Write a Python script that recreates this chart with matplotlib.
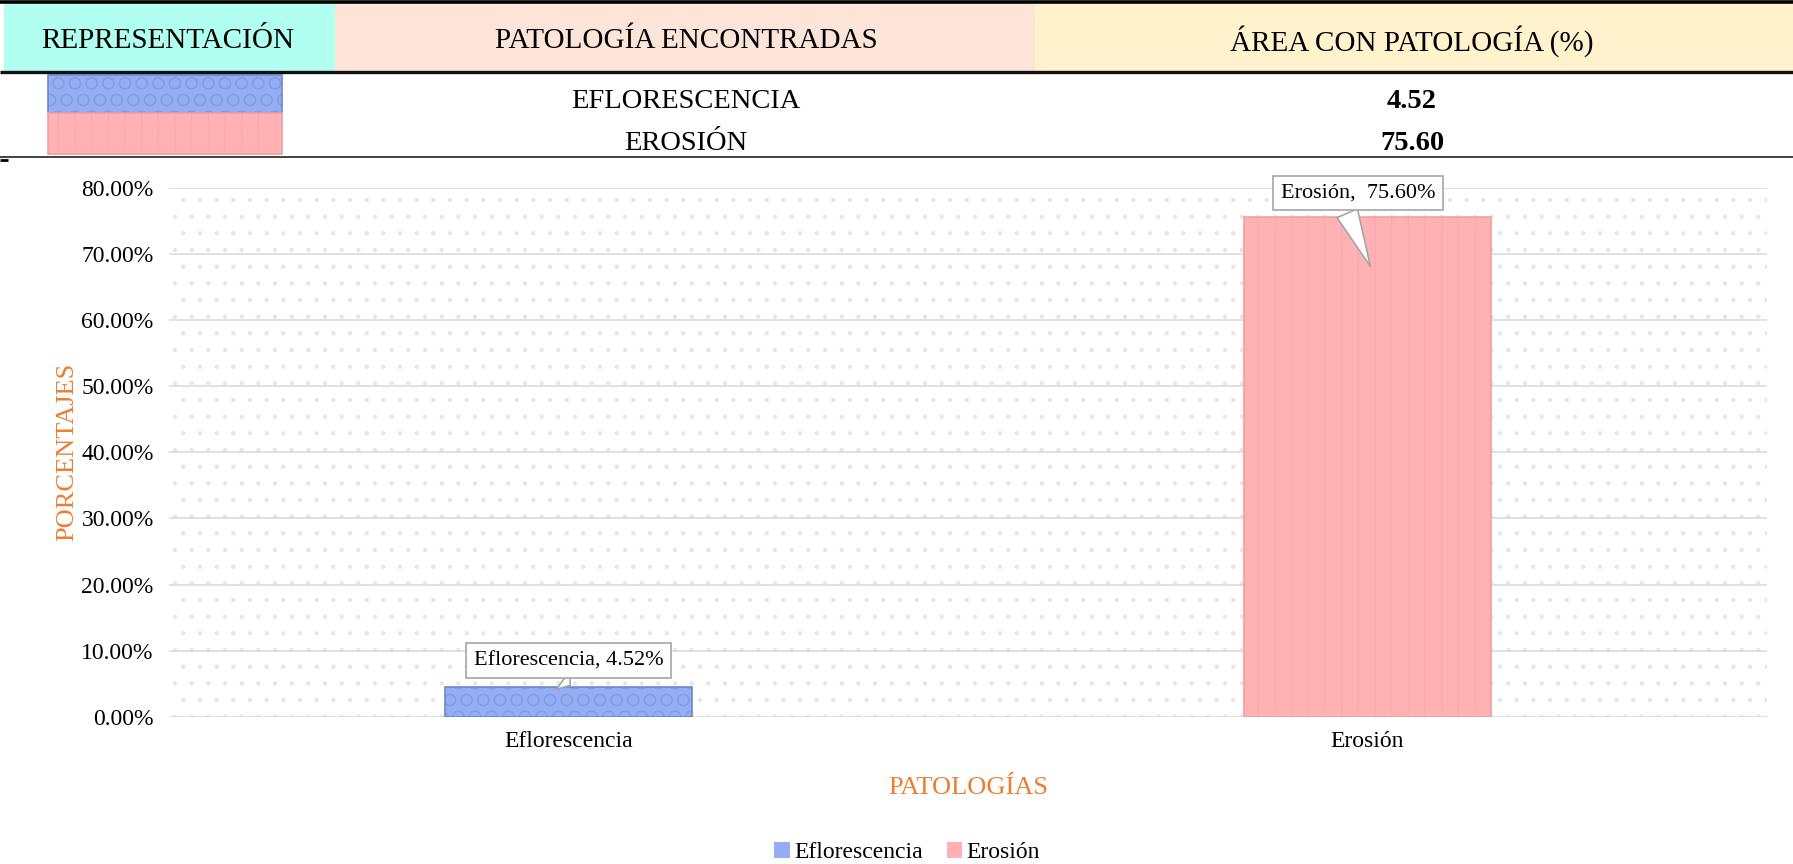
import matplotlib
matplotlib.use("Agg")
import matplotlib.pyplot as plt
from matplotlib.patches import Rectangle, Patch
import numpy as np

plt.rcParams['font.family'] = ['Liberation Serif', 'DejaVu Serif']
plt.rcParams['hatch.linewidth'] = 0.7

# ---- data ----
categories = ["Eflorescencia", "Erosión"]
values = [4.52, 75.60]          # percent
yticks = [0, 10, 20, 30, 40, 50, 60, 70, 80]
header_titles = ["REPRESENTACIÓN", "PATOLOGÍA ENCONTRADAS", "ÁREA CON PATOLOGÍA (%)"]

# ---- styles ----
bar_colors = ["#93AEF4", "#FFB1B3"]
hatch_colors = ["#849EE4", "#F5A7A9"]
hatches = ["O", "|"]
orange = "#ED7D31"

W, H = 1793, 864
fig = plt.figure(figsize=(W / 100, H / 100), dpi=100)

# ---- header table (pixel-based layout axes) ----
hax = fig.add_axes([0, 1 - 165 / H, 1, 165 / H])
hax.set_xlim(0, W)
hax.set_ylim(165, 0)
hax.axis('off')

cells = [(4, 335, "#B0FFF0"), (335, 1035, "#FDE4D9"), (1035, W, "#FFF2CC")]
for (x0, x1, c) in cells:
    hax.add_patch(Rectangle((x0, 3), x1 - x0, 68, facecolor=c, edgecolor='none'))
hax.hlines(1.5, 0, W, color='black', lw=2.6)
hax.hlines(72, 0, W, color='#111111', lw=2.4)
hax.hlines(157, 0, W, color='#333333', lw=1.3)
hax.hlines(160, 0, 8, color='black', lw=2.0)

centers = [167.5, 686, 1412]
for cx, t in zip(centers, header_titles):
    hax.text(cx, 38, t, ha='center', va='center_baseline', fontsize=21, color='black')

row_y = [98, 141]
sw_y = [(75, 38), (113, 41)]
for i, cat in enumerate(categories):
    y0, h = sw_y[i]
    hax.add_patch(Rectangle((48, y0), 234, h, facecolor=bar_colors[i],
                            edgecolor=hatch_colors[i], hatch=hatches[i], lw=0))
    hax.add_patch(Rectangle((48, y0), 234, h, facecolor='none',
                            edgecolor='#6F86C8' if i == 0 else '#F0A0A2', lw=1.2))
    hax.text(centers[1], row_y[i], cat.upper(), ha='center', va='center_baseline', fontsize=20.5)
    hax.text(centers[2], row_y[i], f"{values[i]:.2f}", ha='center', va='center_baseline',
             fontsize=20.5, fontweight='bold')

# ---- main chart ----
ax = fig.add_axes([169 / W, 1 - 717 / H, 1598 / W, 529.5 / H])
ax.patch.set_facecolor('white')
ax.patch.set_edgecolor('#E6E6E6')
ax.patch.set_hatch('.')
ax.patch.set_linewidth(0)

x = np.arange(len(categories))
for i in range(len(categories)):
    ax.bar(x[i], values[i], width=0.31, color=bar_colors[i],
           edgecolor=hatch_colors[i], hatch=hatches[i], lw=0, zorder=3)
    ax.bar(x[i], values[i], width=0.31, color='none',
           edgecolor='#6F86C8' if i == 0 else '#F0A0A2', lw=1.2, zorder=3)

ax.set_xlim(-0.5, len(categories) - 0.5)
ax.set_ylim(0, 80)
ax.set_yticks(yticks)
ax.set_yticklabels([f"{v:.2f}%" for v in yticks])
ax.set_xticks(x)
ax.set_xticklabels(categories)
ax.tick_params(axis='y', length=0, pad=11, labelsize=17)
ax.tick_params(axis='x', length=0, pad=10, labelsize=17)
ax.grid(axis='y', color='#D9D9D9', lw=1.1, zorder=1)
ax.set_axisbelow(True)
for s in ax.spines.values():
    s.set_visible(False)

ax.set_ylabel("PORCENTAJES", color=orange, fontsize=19)
ax.yaxis.set_label_coords(-0.057, 0.5)
ax.set_xlabel("PATOLOGÍAS", color=orange, fontsize=19)
ax.xaxis.set_label_coords(0.5, -0.113)

# data labels (callouts)
text_dx = [0.0, -0.012]
text_dy = [4.0, 3.6]
tip_dy = [0.0, -7.9]
for i in range(len(categories)):
    sep = ",  " if i == 1 else ", "
    ax.annotate(f"{categories[i]}{sep}{values[i]:.2f}%",
                xy=(x[i] + 0.005, values[i] + tip_dy[i]),
                xytext=(x[i] + text_dx[i], values[i] + text_dy[i]),
                textcoords='data', ha='center', va='center', fontsize=16,
                bbox=dict(boxstyle='square,pad=0.35', fc='white', ec='#A6A6A6', lw=1.2),
                arrowprops=dict(arrowstyle='wedge,tail_width=1.0,shrink_factor=0.5',
                                fc='white', ec='#A6A6A6', lw=1.2,
                                relpos=(0.4, 0.0)),
                zorder=5, annotation_clip=False)

# legend
handles = [Patch(facecolor=c, edgecolor='none') for c in bar_colors]
fig.legend(handles, categories, loc='lower center', bbox_to_anchor=(0.506, -0.024),
           ncol=2, frameon=False, fontsize=17, handlelength=0.65, handleheight=0.65,
           handletextpad=0.2, columnspacing=1.0)

fig.savefig("out.png", dpi=100)
